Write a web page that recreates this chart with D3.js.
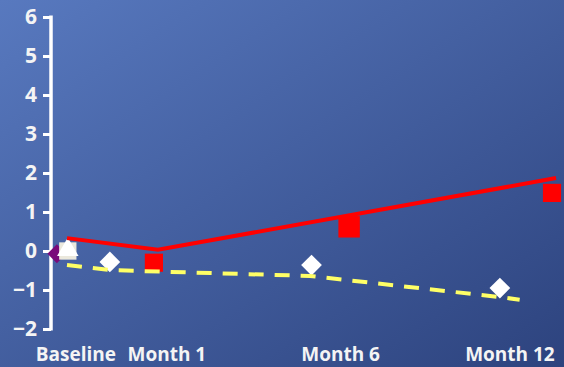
<!DOCTYPE html>
<html>
<head>
<meta charset="utf-8">
<script src="https://cdn.jsdelivr.net/npm/d3@7"></script>
<style>
  html, body { margin: 0; padding: 0; overflow: hidden; }
  svg { display: block; }
</style>
</head>
<body>
<svg id="chart" width="564" height="367"></svg>
<script>
// ---- data (x in months, y in score units) ----
const yTicks = [-2, -1, 0, 1, 2, 3, 4, 5, 6];
const xLabels = ["Baseline", "Month 1", "Month 6", "Month 12"];
const xLabelAt = [0.22, 2.47, 6.77, 10.96];

const whiteDiamondX = [1.06, 6.05, 10.71];
const whiteDiamondY = [-0.28, -0.36, -0.95];

const redSquareX = [2.15, 6.98, 12.0];
const redSquareY = [-0.30, 0.62, 1.49];

const purpleDiamondX = [-0.25];
const purpleDiamondY = [-0.07];
const beigeSquareX = [0.02];
const beigeSquareY = [0.0];
const whiteTriangleX = [0.02];
const whiteTriangleY = [0.03];

const redLineX = [0.0, 2.25, 12.1];
const redLineY = [0.33, 0.03, 1.87];

const yellowLineX = [0.0, 1.06, 6.01, 10.71, 11.2];
const yellowLineY = [-0.36, -0.49, -0.64, -1.18, -1.25];

// ---- drawing ----
const W = 564, H = 367;
const svg = d3.select("#chart");
const defs = svg.append("defs");
const grad = defs.append("linearGradient").attr("id", "bg")
  .attr("x1", "0").attr("y1", "0").attr("x2", "1").attr("y2", "1");
grad.append("stop").attr("offset", "0%").attr("stop-color", "#5879bf");
grad.append("stop").attr("offset", "100%").attr("stop-color", "#2d437e");
svg.append("rect").attr("width", W).attr("height", H).attr("fill", "url(#bg)");

const x = d3.scaleLinear().domain([0, 12]).range([67, 552]);
const y = d3.scaleLinear().domain([-2, 6]).range([329, 17]);

const font = "'Open Sans', 'DejaVu Sans', sans-serif";

// y axis
const yAxis = d3.axisLeft(y).tickValues(yTicks).tickSize(8).tickSizeOuter(0).tickPadding(6)
  .tickFormat(d3.format("d"));
const ga = svg.append("g").attr("transform", "translate(51,0)").call(yAxis);
ga.select(".domain").attr("stroke", "#ffffff").attr("stroke-width", 3.5)
  .attr("d", `M0,${y(6) - 1.5}V${y(-2) + 1.5}`);
ga.selectAll(".tick line").attr("stroke", "#ffffff").attr("stroke-width", 3);
ga.selectAll(".tick text").attr("fill", "#f4f4f4")
  .style("font-family", font).style("font-weight", "700").style("font-size", "21px");

// x labels
svg.append("g").selectAll("text").data(xLabels).join("text")
  .attr("x", (d, i) => x(xLabelAt[i])).attr("y", 361)
  .attr("text-anchor", "middle")
  .attr("fill", "#f4f4f4")
  .style("font-family", font).style("font-weight", "700").style("font-size", "19px")
  .text(d => d);

const pts = (xs, ys) => xs.map((v, i) => [v, ys[i]]);

// markers
const sym = (type, size) => d3.symbol().type(type).size(size)();

svg.append("g").selectAll("path").data(pts(purpleDiamondX, purpleDiamondY)).join("path")
  .attr("transform", d => `translate(${x(d[0])},${y(d[1])}) rotate(45)`)
  .attr("d", sym(d3.symbolSquare, 180)).attr("fill", "#7a0a7a");

svg.append("g").selectAll("path").data(pts(beigeSquareX, beigeSquareY)).join("path")
  .attr("transform", d => `translate(${x(d[0])},${y(d[1])})`)
  .attr("d", sym(d3.symbolSquare, 300)).attr("fill", "#ebe8dc");

svg.append("g").selectAll("path").data(pts(whiteTriangleX, whiteTriangleY)).join("path")
  .attr("transform", d => `translate(${x(d[0])},${y(d[1])})`)
  .attr("d", sym(d3.symbolTriangle, 200)).attr("fill", "#ffffff");

svg.append("g").selectAll("path").data(pts(whiteDiamondX, whiteDiamondY)).join("path")
  .attr("transform", d => `translate(${x(d[0])},${y(d[1])}) rotate(45)`)
  .attr("d", sym(d3.symbolSquare, 215)).attr("fill", "#ffffff");

svg.append("g").selectAll("path").data(pts(redSquareX, redSquareY)).join("path")
  .attr("transform", (d, i) => `translate(${x(d[0])},${y(d[1])})`)
  .attr("d", (d, i) => sym(d3.symbolSquare, i === 1 ? 460 : 330)).attr("fill", "#ff0000");

// lines
const line = d3.line().x(d => x(d[0])).y(d => y(d[1]));
svg.append("path").datum(pts(yellowLineX, yellowLineY))
  .attr("d", line).attr("fill", "none").attr("stroke", "#ffff66")
  .attr("stroke-width", 4).attr("stroke-dasharray", "15,11");
svg.append("path").datum(pts(redLineX, redLineY))
  .attr("d", line).attr("fill", "none").attr("stroke", "#ff0000")
  .attr("stroke-width", 4);
</script>
</body>
</html>
